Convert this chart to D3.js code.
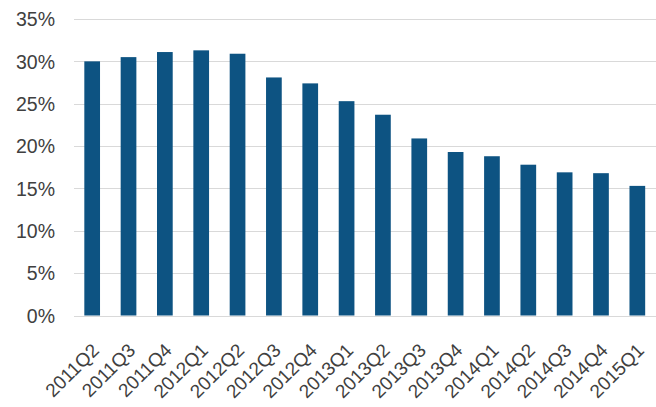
<!DOCTYPE html>
<html>
<head>
<meta charset="utf-8">
<script src="https://cdn.jsdelivr.net/npm/d3@7"></script>
<style>
  html, body { margin: 0; padding: 0; background: #ffffff; }
  svg { display: block; }
  text { font-family: "Liberation Sans", Arial, sans-serif; fill: #404040; }
</style>
</head>
<body>
<div id="chart"></div>
<script>
const categories = ["2011Q2","2011Q3","2011Q4","2012Q1","2012Q2","2012Q3","2012Q4","2013Q1","2013Q2","2013Q3","2013Q4","2014Q1","2014Q2","2014Q3","2014Q4","2015Q1"];
const values = [30.0, 30.5, 31.1, 31.3, 30.9, 28.1, 27.4, 25.3, 23.7, 20.9, 19.3, 18.8, 17.8, 16.9, 16.8, 15.3];
const yTicks = [0, 5, 10, 15, 20, 25, 30, 35];

const W = 656, H = 407;
const margin = { top: 19, right: 0.5, bottom: 91.5, left: 74 };

const svg = d3.select("#chart").append("svg").attr("width", W).attr("height", H);

const x = d3.scaleBand()
  .domain(categories)
  .range([margin.left, W - margin.right])
  .paddingInner(0.568)
  .paddingOuter(0.284);

const y = d3.scaleLinear().domain([0, 35]).range([H - margin.bottom, margin.top]);

// gridlines
svg.append("g")
  .selectAll("line")
  .data(yTicks)
  .join("line")
  .attr("x1", margin.left)
  .attr("x2", W)
  .attr("y1", d => Math.round(y(d)) + 0.5)
  .attr("y2", d => Math.round(y(d)) + 0.5)
  .attr("stroke", "#d9d9d9")
  .attr("stroke-width", 1);

// y axis labels
const yAxis = d3.axisLeft(y).tickValues(yTicks).tickFormat(d => d + "%").tickSize(0).tickPadding(0);
const gy = svg.append("g").attr("transform", `translate(${55},0)`).call(yAxis);
gy.select(".domain").remove();
gy.selectAll("text").style("font-size", "19.5px").attr("fill", "#404040").attr("dy", "0.35em");

// bars
svg.append("g")
  .selectAll("rect")
  .data(values)
  .join("rect")
  .attr("x", (d, i) => x(categories[i]))
  .attr("width", x.bandwidth())
  .attr("y", d => y(d))
  .attr("height", d => y(0) - y(d))
  .attr("fill", "#0d5382");

// x axis labels
const xAxis = d3.axisBottom(x).tickSize(0).tickPadding(0);
const gx = svg.append("g").attr("transform", `translate(0,${y(0)})`).call(xAxis);
gx.select(".domain").remove();
gx.selectAll("text")
  .style("font-size", "19px")
  .attr("fill", "#404040")
  .attr("text-anchor", "end")
  .attr("dy", null)
  .attr("y", 0)
  .attr("transform", "translate(8,36) rotate(-45)");
</script>
</body>
</html>
